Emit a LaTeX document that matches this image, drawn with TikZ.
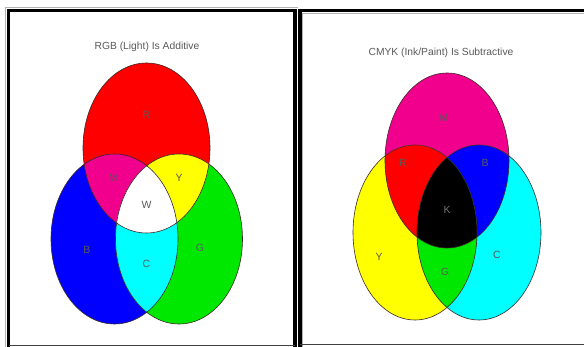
\documentclass[tikz,border=0pt]{standalone}
\usepackage{fontspec}
\setmainfont{Liberation Sans}
\definecolor{cR}{RGB}{255,0,0}
\definecolor{cB}{RGB}{0,0,255}
\definecolor{cG}{RGB}{0,232,0}
\definecolor{cM}{RGB}{240,0,140}
\definecolor{cY}{RGB}{255,255,0}
\definecolor{cC}{RGB}{0,255,255}
\definecolor{edge}{RGB}{60,40,40}
\definecolor{txt}{RGB}{90,90,90}
\begin{document}
\begin{tikzpicture}[x=1pt,y=-1pt,
  frame/.style={line width=3.5pt,black},
  thinframe/.style={line width=0.9pt,black!75},
  shade/.style={line width=0.6pt,black!30},
  outline/.style={draw=edge,line width=0.6pt},
  title/.style={text=txt,font=\fontsize{10.3}{12}\selectfont,inner sep=0pt},
  lbl/.style={text=txt,font=\fontsize{10.5}{12}\selectfont,inner sep=0pt}]
\useasboundingbox (0,0) rectangle (584,347);
\fill[white] (0,0) rectangle (584,347);
% ---------- RGB ----------
\coordinate (rc) at (146.5,148);
\coordinate (bc) at (114.5,239);
\coordinate (gc) at (179,239);
\def\ra{63.5}\def\rb{85}
\fill[cR] (rc) ellipse [x radius=\ra, y radius=\rb];
\fill[cB] (bc) ellipse [x radius=\ra, y radius=\rb];
\fill[cG] (gc) ellipse [x radius=\ra, y radius=\rb];
\begin{scope}\clip (rc) ellipse [x radius=\ra, y radius=\rb];
  \fill[cM] (bc) ellipse [x radius=\ra, y radius=\rb];
  \fill[cY] (gc) ellipse [x radius=\ra, y radius=\rb];
\end{scope}
\begin{scope}\clip (bc) ellipse [x radius=\ra, y radius=\rb];
  \fill[cC] (gc) ellipse [x radius=\ra, y radius=\rb];
  \clip (rc) ellipse [x radius=\ra, y radius=\rb];
  \fill[white] (gc) ellipse [x radius=\ra, y radius=\rb];
\end{scope}
\draw[outline] (rc) ellipse [x radius=\ra, y radius=\rb];
\draw[outline] (bc) ellipse [x radius=\ra, y radius=\rb];
\draw[outline] (gc) ellipse [x radius=\ra, y radius=\rb];
\node[title] (t1) at (147,47) {RGB (Light) Is Additive};
\node[lbl] (lR) at (146.5,115) {R};
\node[lbl] (lM) at (113,178) {M};
\node[lbl] (lY) at (179,178) {Y};
\node[lbl] (lW) at (146.5,205) {W};
\node[lbl] (lB) at (87,250) {B};
\node[lbl] (lG) at (200,248) {G};
\node[lbl] (lC) at (146.5,264) {C};
% ---------- CMYK ----------
\coordinate (mc) at (447,160.5);
\coordinate (yc) at (415,232.5);
\coordinate (cc) at (479,232.5);
\def\sa{62}\def\sb{87.5}
\fill[cM] (mc) ellipse [x radius=\sa, y radius=\sb];
\fill[cY] (yc) ellipse [x radius=\sa, y radius=\sb];
\fill[cC] (cc) ellipse [x radius=\sa, y radius=\sb];
\begin{scope}\clip (mc) ellipse [x radius=\sa, y radius=\sb];
  \fill[cR] (yc) ellipse [x radius=\sa, y radius=\sb];
  \fill[cB] (cc) ellipse [x radius=\sa, y radius=\sb];
\end{scope}
\begin{scope}\clip (yc) ellipse [x radius=\sa, y radius=\sb];
  \fill[cG] (cc) ellipse [x radius=\sa, y radius=\sb];
  \clip (mc) ellipse [x radius=\sa, y radius=\sb];
  \fill[black] (cc) ellipse [x radius=\sa, y radius=\sb];
\end{scope}
\draw[outline] (mc) ellipse [x radius=\sa, y radius=\sb];
\draw[outline] (yc) ellipse [x radius=\sa, y radius=\sb];
\draw[outline] (cc) ellipse [x radius=\sa, y radius=\sb];
\node[title] (t2) at (441,53) {CMYK (Ink/Paint) Is Subtractive};
\node[lbl] (kM) at (444,118) {M};
\node[lbl] (kR) at (403,163) {R};
\node[lbl] (kB) at (485,163) {B};
\node[lbl,text=black!55] (kK) at (447,210) {K};
\node[lbl] (kY) at (379,257) {Y};
\node[lbl] (kC) at (497,255) {C};
\node[lbl] (kG) at (445,272) {G};
% ---------- frames ----------
\draw[shade] (5.5,347) -- (5.5,7.5) -- (298,7.5);
\draw[frame] (8.5,347) -- (8.5,10.5) -- (295,10.5) -- (295,347);
\draw[thinframe] (8.5,345.3) -- (295,345.3);
\draw[shade] (302.5,347) -- (302.5,13.5) -- (584,13.5);
\draw[frame] (300,347) -- (300,10.5) -- (590,10.5);
\draw[thinframe] (300,344.8) -- (584,344.8);
\end{tikzpicture}
\end{document}
